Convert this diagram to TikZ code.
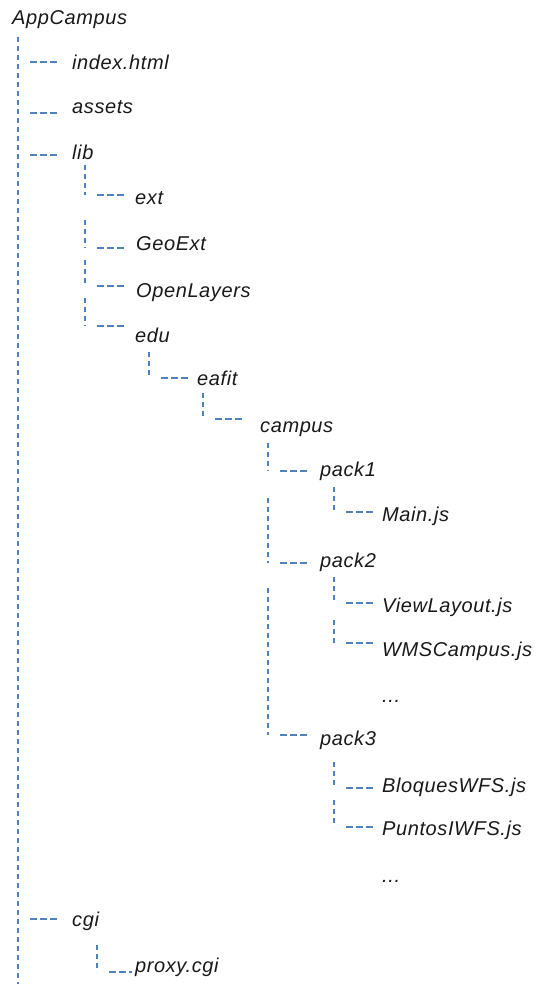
\documentclass[tikz,border=0pt]{standalone}
\usepackage{fontspec}
\newfontfamily\treefont{Liberation Sans}[LetterSpace=3]
\usetikzlibrary{calc}
\definecolor{linkblue}{RGB}{79,129,189}
\definecolor{labelink}{RGB}{25,25,25}

% #1 x of the vertical stem, #2 top y of the stem, #3 child node,
% #4 gap left before the label, #5 rise of the branch above the baseline
\newcommand\twig[5]{%
  \draw[vline] let \p1=(#3.base west) in (#1pt,-#2pt) -- (#1pt,\y1+#5pt);
  \draw[hline] let \p1=(#3.base west) in (#1pt+12pt,\y1+#5pt) -- (\x1-#4pt,\y1+#5pt);
}
% branch leaving the main trunk: #1 start x, #2 child, #3 gap, #4 rise
\newcommand\trunkbranch[4]{%
  \draw[hline] let \p1=(#2.base west) in (#1pt,\y1+#4pt) -- (\x1-#3pt,\y1+#4pt);
}

\begin{document}
\begin{tikzpicture}[x=1pt,y=-1pt,
  item/.style={anchor=base west,inner sep=0pt,text=labelink,
    font=\treefont\itshape\fontsize{20}{24}\selectfont},
  vline/.style={draw=linkblue,line width=1.3pt,dash pattern=on 5pt off 4pt},
  hline/.style={draw=linkblue,line width=1.3pt,dash pattern=on 7pt off 3pt}]
\useasboundingbox (0,0) rectangle (538,984);

% labels
\node[item] (root)   at (12,25)  {AppCampus};
\node[item] (index)  at (72,70)  {index.html};
\node[item] (assets) at (72,114) {assets};
\node[item] (lib)    at (72,160) {lib};
\node[item] (ext)    at (135,205) {ext};
\node[item] (geoext) at (136,251) {GeoExt};
\node[item] (openl)  at (136,297) {OpenLayers};
\node[item] (edu)    at (135,342) {edu};
\node[item] (eafit)  at (197,385) {eafit};
\node[item] (campus) at (260,432) {campus};
\node[item] (packA)  at (320,476) {pack1};
\node[item] (mainjs) at (382,521) {Main.js};
\node[item] (packB)  at (320,567) {pack2};
\node[item] (viewl)  at (382,612) {ViewLayout.js};
\node[item] (wmsc)   at (382,656) {WMSCampus.js};
\node[item] (moreB)  at (382,702) {...};
\node[item] (packC)  at (320,745) {pack3};
\node[item] (bloq)   at (382,792) {BloquesWFS.js};
\node[item] (punt)   at (382,835) {PuntosIWFS.js};
\node[item] (moreC)  at (382,882) {...};
\node[item] (cgi)    at (72,926) {cgi};
\node[item] (proxy)  at (135,972) {proxy.cgi};

% main trunk
\coordinate (trunktop) at (18,37);
\coordinate (trunkend) at (18,984);
\draw[vline] (trunktop) -- (trunkend);
\trunkbranch{30}{index}{14}{8}
\trunkbranch{30}{assets}{14}{1}
\trunkbranch{30}{lib}{14}{5}
\trunkbranch{30}{cgi}{14}{7}

% lib
\twig{85}{165}{ext}{11}{10}
\twig{85}{220}{geoext}{12}{3}
\twig{85}{260}{openl}{12}{11}
\twig{85}{298}{edu}{11}{16}
% edu / eafit / campus
\twig{149}{352}{eafit}{7}{7}
\twig{203}{393}{campus}{18}{13}
% campus packages
\twig{268}{443}{packA}{10}{5}
\twig{268}{498}{packB}{10}{4}
\twig{268}{588}{packC}{10}{10}
% package contents
\twig{334}{487}{mainjs}{7}{9}
\twig{334}{577}{viewl}{7}{9}
\twig{334}{620}{wmsc}{7}{13}
\twig{334}{762}{bloq}{7}{4}
\twig{334}{800}{punt}{7}{8}
% cgi
\twig{97}{945}{proxy}{3}{0}
\end{tikzpicture}
\end{document}
